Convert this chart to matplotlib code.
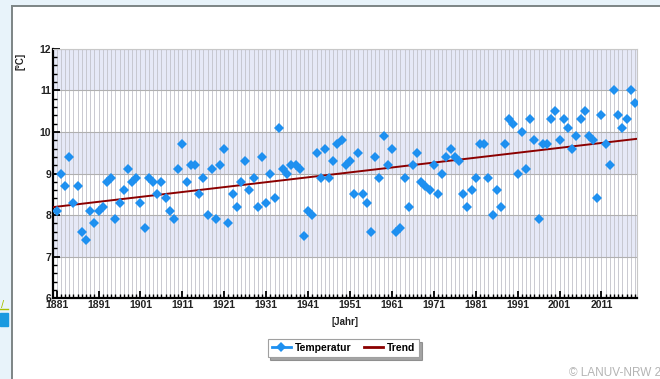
import matplotlib
matplotlib.use("Agg")
import matplotlib.pyplot as plt
from matplotlib.lines import Line2D
from matplotlib.patches import Rectangle
from matplotlib.ticker import MultipleLocator, FixedLocator

# annual mean temperature, NRW
years = list(range(1881, 2020))
temps = [
    8.1, 9.0, 8.7, 9.4, 8.3, 8.7, 7.6, 7.4, 8.1, 7.8,   # 1881-1890
    8.1, 8.2, 8.8, 8.9, 7.9, 8.3, 8.6, 9.1, 8.8, 8.9,   # 1891-1900
    8.3, 7.7, 8.9, 8.8, 8.5, 8.8, 8.4, 8.1, 7.9, 9.1,   # 1901-1910
    9.7, 8.8, 9.2, 9.2, 8.5, 8.9, 8.0, 9.1, 7.9, 9.2,   # 1911-1920
    9.6, 7.8, 8.5, 8.2, 8.8, 9.3, 8.6, 8.9, 8.2, 9.4,   # 1921-1930
    8.3, 9.0, 8.4, 10.1, 9.1, 9.0, 9.2, 9.2, 9.1, 7.5,  # 1931-1940
    8.1, 8.0, 9.5, 8.9, 9.6, 8.9, 9.3, 9.7, 9.8, 9.2,   # 1941-1950
    9.3, 8.5, 9.5, 8.5, 8.3, 7.6, 9.4, 8.9, 9.9, 9.2,   # 1951-1960
    9.6, 7.6, 7.7, 8.9, 8.2, 9.2, 9.5, 8.8, 8.7, 8.6,   # 1961-1970
    9.2, 8.5, 9.0, 9.4, 9.6, 9.4, 9.3, 8.5, 8.2, 8.6,   # 1971-1980
    8.9, 9.7, 9.7, 8.9, 8.0, 8.6, 8.2, 9.7, 10.3, 10.2, # 1981-1990
    9.0, 10.0, 9.1, 10.3, 9.8, 7.9, 9.7, 9.7, 10.3, 10.5,  # 1991-2000
    9.8, 10.3, 10.1, 9.6, 9.9, 10.3, 10.5, 9.9, 9.8, 8.4,  # 2001-2010
    10.4, 9.7, 9.2, 11.0, 10.4, 10.1, 10.3, 11.0, 10.7,    # 2011-2019
]
trend_years = [1880, 2020]
trend_values = [8.19, 9.84]
decade_labels = list(range(1881, 2012, 10))

BLUE = "#1e90f0"
TREND = "#8b0000"

plt.rcParams["font.family"] = ["Liberation Sans", "DejaVu Sans"]
fig = plt.figure(figsize=(6.6, 3.79), dpi=100)

# page decorations around the chart (screenshot frame)
fig.patches.append(Rectangle((0, 0), 11 / 660, 1, transform=fig.transFigure,
                             color="#e8f3fa", zorder=0))
fig.patches.append(Rectangle((0, 1 - 5 / 379), 1, 5 / 379, transform=fig.transFigure,
                             color="#e8f3fa", zorder=0))
fig.lines.append(Line2D([11.7 / 660, 11.7 / 660], [0, 1 - 6 / 379], transform=fig.transFigure,
                        color="#7d8585", lw=1.4))
fig.lines.append(Line2D([11.7 / 660, 1], [1 - 6 / 379, 1 - 6 / 379], transform=fig.transFigure,
                        color="#7d8585", lw=1.4))
fig.text(1 / 660, 1 - 305 / 379, "/", color="#a8c000", fontsize=8, va="center")
fig.lines.append(Line2D([0, 8 / 660], [1 - 309 / 379, 1 - 309 / 379], transform=fig.transFigure,
                        color="#a8c000", lw=1))
fig.patches.append(Rectangle((0, 1 - 326 / 379), 8 / 660, 13 / 379, transform=fig.transFigure,
                             color="#1a9ae0", zorder=1))

ax = fig.add_axes([53.3 / 660, 1 - 298.3 / 379, 583.4 / 660, 249.6 / 379])
ax.set_xlim(1880.2, 2019.4)
ax.set_ylim(6, 12)

# alternating horizontal bands
for lo in (7, 9, 11):
    ax.axhspan(lo, lo + 1, color="#e6e9f7", zorder=0, lw=0)

ax.xaxis.set_major_locator(FixedLocator(decade_labels))
ax.xaxis.set_minor_locator(FixedLocator(years))
ax.yaxis.set_major_locator(MultipleLocator(1))
ax.yaxis.set_minor_locator(MultipleLocator(0.2))

ax.grid(True, which="both", axis="x", color="#c2c2ca", lw=0.6, zorder=1)
ax.grid(True, which="major", axis="y", color="#b0b0b0", lw=0.8, zorder=1)
ax.set_axisbelow(True)

ax.plot(trend_years, trend_values, color=TREND, lw=1.4, zorder=3)
ax.plot(years, temps, ls="none", marker="D", markersize=5, color=BLUE,
        markeredgewidth=0, zorder=4)

for side in ("left", "bottom"):
    ax.spines[side].set_color("black")
    ax.spines[side].set_linewidth(1.6)
for side in ("top", "right"):
    ax.spines[side].set_color("#c8c8c8")
    ax.spines[side].set_linewidth(0.8)

ax.tick_params(which="major", direction="in", length=5, width=1.3, pad=1.5,
               labelsize=7.5, colors="black")
ax.tick_params(which="minor", direction="in", length=3, width=1.0)
for lab in ax.get_xticklabels() + ax.get_yticklabels():
    lab.set_fontweight("bold")
    lab.set_color("#222222")

fig.text(20 / 660, 1 - 61 / 379, "[°C]", rotation=90, ha="center", va="center",
         fontsize=7, fontweight="bold", color="#222222")
fig.text(345 / 660, 1 - 322 / 379, "[Jahr]", ha="center", va="center",
         fontsize=7, fontweight="bold", color="#222222")

handles = [
    Line2D([], [], color=BLUE, marker="D", markersize=5, lw=2, markeredgewidth=0),
    Line2D([], [], color=TREND, lw=2),
]
leg = fig.legend(handles, ["Temperatur", "Trend"], loc="center", ncol=2,
                 bbox_to_anchor=(343.5 / 660, 1 - 348 / 379), frameon=True, fancybox=False,
                 shadow=True, edgecolor="#a0a0a0", handlelength=1.8, handletextpad=0.4,
                 columnspacing=1.2, borderpad=0.4, prop={"size": 7.5, "weight": "bold"})
leg.get_frame().set_linewidth(0.8)

fig.text(569 / 660, 1 - 373 / 379, "© LANUV-NRW 2020", ha="left", va="center",
         fontsize=8.5, color="#b4b4b4")

fig.savefig("out.png", dpi=100)
